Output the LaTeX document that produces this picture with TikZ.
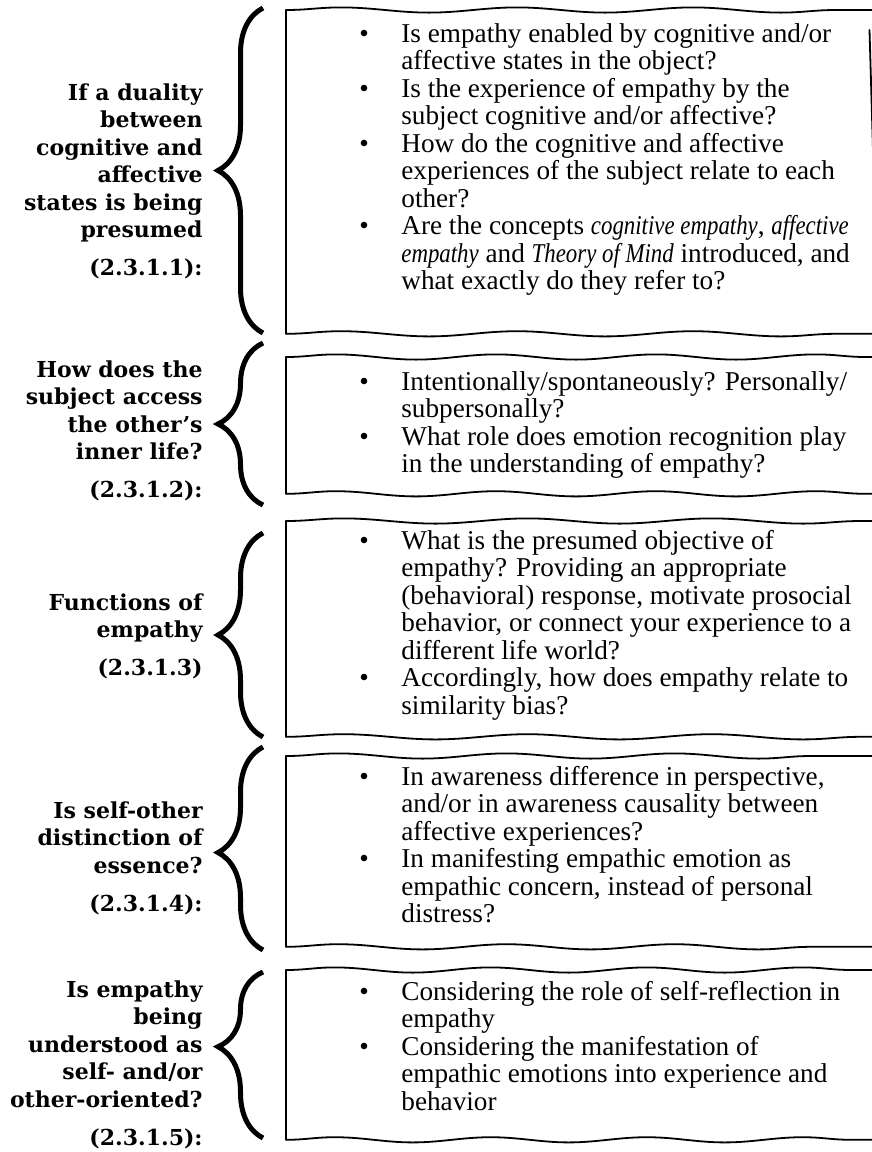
\documentclass[tikz,border=0pt]{standalone}
\usepackage{fontspec}
\usepackage{graphicx}
\setmainfont{Liberation Serif}
\newfontfamily\labelfont{DejaVu Serif}
\usetikzlibrary{decorations.pathreplacing,decorations.pathmorphing}
\newcommand{\bul}{\textbullet}
\newcommand{\itc}[1]{\scalebox{0.84}[1]{\itshape #1}}
\begin{document}
\begin{tikzpicture}[x=0.5pt,y=0.5pt,
    boxarea/.style={inner sep=0pt, anchor=north west},
    boxline/.style={line width=0.9pt, line cap=round},
    wavy/.style={decorate, decoration={snake, segment length=#1, amplitude=1.3pt}},
    wavy/.default=85pt,
    curly/.style={decorate, decoration={brace, amplitude=22.5pt, aspect=#1}, line width=2.5pt},
    curly/.default=0.5,
    question/.style={anchor=base west, inner sep=0pt, font=\fontsize{13.6}{13.75}\selectfont},
    topic/.style={anchor=base east, inner sep=0pt, font=\labelfont\bfseries\fontsize{11}{13.75}\selectfont}]

    % Page
    \useasboundingbox (0,0) rectangle (872,-1152);

    % Boxes
    \node[boxarea, minimum width=302pt, minimum height=161.5pt] (box1) at (286,-10) {};
    \node[boxarea, minimum width=302pt, minimum height=68pt] (box2) at (286,-357) {};
    \node[boxarea, minimum width=302pt, minimum height=107.5pt] (box3) at (286,-521) {};
    \node[boxarea, minimum width=302pt, minimum height=95pt] (box4) at (286,-756) {};
    \node[boxarea, minimum width=302pt, minimum height=84.5pt] (box5) at (286,-970) {};
    \foreach \b/\s in {box1/88pt,box2/80pt,box3/92pt,box4/84pt,box5/78pt}{
      \draw[boxline, wavy=\s] (\b.north west) -- (\b.north east);
      \draw[boxline, wavy=\s] (\b.south west) -- (\b.south east);
      \draw[boxline] (\b.north west) -- (\b.south west);
    }
    % right side of the first box, leaving the page
    \coordinate (r1a) at (869.5,-30);
    \coordinate (r1b) at (873,-150);
    \draw[boxline] (r1a) -- (r1b);

    % Braces
    \coordinate (b1s) at (263,-333); \coordinate (b1e) at (263,-8);
    \coordinate (b2s) at (263,-505); \coordinate (b2e) at (263,-343);
    \coordinate (b3s) at (263,-737); \coordinate (b3e) at (263,-533);
    \coordinate (b4s) at (263,-950); \coordinate (b4e) at (263,-747);
    \coordinate (b5s) at (263,-1138); \coordinate (b5e) at (263,-972);
    \draw[curly] (b1s) -- (b1e);
    \draw[curly] (b2s) -- (b2e);
    \draw[curly] (b3s) -- (b3e);
    \draw[curly=0.48] (b4s) -- (b4e);
    \draw[curly=0.55] (b5s) -- (b5e);

    % Topics
    \node[topic] (t1) at (203,-100) {\begin{tabular}[t]{@{}r@{}}If a duality\\ between\\ cognitive and\\ affective\\ states is being\\ presumed\\[5.25pt] (2.3.1.1):\end{tabular}};
    \node[topic] (t2) at (203,-377) {\begin{tabular}[t]{@{}r@{}}How does the\\ subject access\\ the other’s\\ inner life?\\[5.25pt] (2.3.1.2):\end{tabular}};
    \node[topic] (t3) at (203,-610) {\begin{tabular}[t]{@{}r@{}}Functions of\\ empathy\\[5.25pt] (2.3.1.3)\end{tabular}};
    \node[topic] (t4) at (203,-818) {\begin{tabular}[t]{@{}r@{}}Is self-other\\ distinction of\\ essence?\\[5.25pt] (2.3.1.4):\end{tabular}};
    \node[topic] (t5) at (203,-997) {\begin{tabular}[t]{@{}r@{}}Is empathy\\ being\\ understood as\\ self- and/or\\ other-oriented?\\[5.25pt] (2.3.1.5):\end{tabular}};

    % Questions
    \node[question] (q1) at (359,-42) {\begin{tabular}[t]{@{}p{21pt}@{}l@{}}
      \bul & Is empathy enabled by cognitive and/or\\
           & affective states in the object?\\
      \bul & Is the experience of empathy by the\\
           & subject cognitive and/or affective?\\
      \bul & How do the cognitive and affective\\
           & experiences of the subject relate to each\\
           & other?\\
      \bul & Are the concepts \itc{cognitive empathy}, \itc{affective}\\
           & \itc{empathy} and \itc{Theory of Mind} introduced, and\\
           & what exactly do they refer to?
    \end{tabular}};
    \node[question] (q2) at (359,-390) {\begin{tabular}[t]{@{}p{21pt}@{}l@{}}
      \bul & Intentionally/spontaneously? Personally/\\
           & subpersonally?\\
      \bul & What role does emotion recognition play\\
           & in the understanding of empathy?
    \end{tabular}};
    \node[question] (q3) at (359,-549) {\begin{tabular}[t]{@{}p{21pt}@{}l@{}}
      \bul & What is the presumed objective of\\
           & empathy? Providing an appropriate\\
           & (behavioral) response, motivate prosocial\\
           & behavior, or connect your experience to a\\
           & different life world?\\
      \bul & Accordingly, how does empathy relate to\\
           & similarity bias?
    \end{tabular}};
    \node[question] (q4) at (359,-785) {\begin{tabular}[t]{@{}p{21pt}@{}l@{}}
      \bul & In awareness difference in perspective,\\
           & and/or in awareness causality between\\
           & affective experiences?\\
      \bul & In manifesting empathic emotion as\\
           & empathic concern, instead of personal\\
           & distress?
    \end{tabular}};
    \node[question] (q5) at (359,-1000) {\begin{tabular}[t]{@{}p{21pt}@{}l@{}}
      \bul & Considering the role of self-reflection in\\
           & empathy\\
      \bul & Considering the manifestation of\\
           & empathic emotions into experience and\\
           & behavior
    \end{tabular}};

\end{tikzpicture}
\end{document}
